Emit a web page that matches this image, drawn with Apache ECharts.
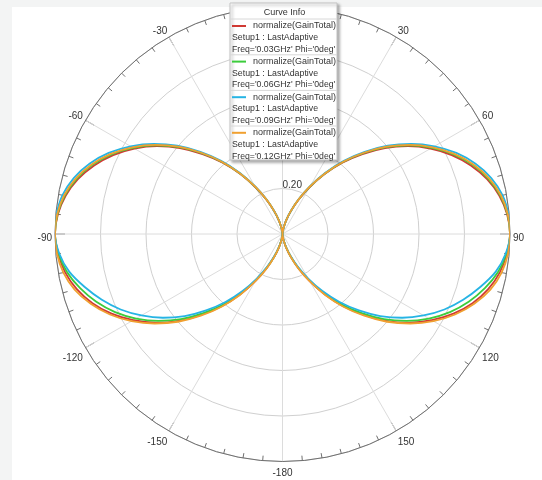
<!DOCTYPE html>
<html>
<head>
<meta charset="utf-8">
<script src="https://cdn.jsdelivr.net/npm/echarts@6/dist/echarts.min.js"></script>
<style>
html,body{margin:0;padding:0;background:#f3f4f4;}
#chart{width:542px;height:480px;}
</style>
</head>
<body>
<div id="chart"></div>
<script>
// Angles (deg, -180..180, 5 deg step)
const angles = [-180,-175,-170,-165,-160,-155,-150,-145,-140,-135,-130,-125,-120,-115,-110,-105,-100,-95,
  -90,-85,-80,-75,-70,-65,-60,-55,-50,-45,-40,-35,-30,-25,-20,-15,-10,-5,
  0,5,10,15,20,25,30,35,40,45,50,55,60,65,70,75,80,85,
  90,95,100,105,110,115,120,125,130,135,140,145,150,155,160,165,170,175,180];
const freqs = ['0.03GHz','0.06GHz','0.09GHz','0.12GHz'];
const gain003 = [0,0.007,0.028,0.062,0.107,0.167,0.239,0.323,0.413,0.502,0.594,0.68,0.758,0.829,0.889,0.936,0.970,0.99,
  1.0,0.991,0.968,0.931,0.881,0.821,0.751,0.673,0.588,0.497,0.409,0.32,0.236,0.165,0.106,0.061,0.028,0.007,
  0,0.007,0.028,0.061,0.106,0.165,0.236,0.32,0.409,0.497,0.588,0.673,0.751,0.821,0.881,0.931,0.968,0.991,
  1.0,0.99,0.970,0.936,0.889,0.829,0.758,0.68,0.594,0.502,0.413,0.323,0.239,0.167,0.107,0.062,0.028,0.007,0];
const gain006 = [0,0.007,0.027,0.06,0.105,0.164,0.234,0.317,0.405,0.492,0.582,0.666,0.743,0.812,0.871,0.921,0.962,0.988,
  1.0,0.993,0.972,0.937,0.889,0.829,0.758,0.68,0.594,0.502,0.413,0.323,0.239,0.167,0.107,0.062,0.028,0.007,
  0,0.007,0.028,0.062,0.107,0.167,0.239,0.323,0.413,0.502,0.594,0.68,0.758,0.829,0.889,0.937,0.972,0.993,
  1.0,0.988,0.962,0.921,0.871,0.812,0.743,0.666,0.582,0.492,0.405,0.317,0.234,0.164,0.105,0.06,0.027,0.007,0];
const gain009 = [0,0.007,0.026,0.058,0.102,0.158,0.226,0.306,0.39,0.475,0.561,0.642,0.716,0.785,0.845,0.9,0.952,0.985,
  1.0,0.997,0.982,0.95,0.903,0.843,0.771,0.691,0.604,0.511,0.42,0.329,0.243,0.17,0.109,0.063,0.028,0.007,
  0,0.007,0.028,0.063,0.109,0.17,0.243,0.329,0.42,0.511,0.604,0.691,0.771,0.843,0.903,0.95,0.982,0.997,
  1.0,0.985,0.952,0.9,0.845,0.785,0.716,0.642,0.561,0.475,0.39,0.306,0.226,0.158,0.102,0.058,0.026,0.007,0];
const gain012 = [0,0.007,0.028,0.062,0.109,0.169,0.241,0.327,0.417,0.508,0.6,0.686,0.766,0.837,0.897,0.946,0.978,0.995,
  1.0,0.994,0.975,0.941,0.893,0.833,0.762,0.683,0.597,0.505,0.415,0.325,0.24,0.168,0.108,0.062,0.028,0.007,
  0,0.007,0.028,0.062,0.108,0.168,0.24,0.325,0.415,0.505,0.597,0.683,0.762,0.833,0.893,0.941,0.975,0.994,
  1.0,0.995,0.978,0.946,0.897,0.837,0.766,0.686,0.6,0.508,0.417,0.327,0.241,0.169,0.109,0.062,0.028,0.007,0];
const gains = [gain003, gain006, gain009, gain012];
const colors = ['#d03a34','#3ccc3c','#26b4e4','#f0a030'];
const seriesLabel = 'normalize(GainTotal)';
const setupLabel = 'Setup1 : LastAdaptive';
const radiusTicks = [0, 0.2, 0.4, 0.6, 0.8, 1.0];

const FONT = 'Liberation Sans, Arial, sans-serif';
const chart = echarts.init(document.getElementById('chart'), null, {renderer:'canvas'});

const series = freqs.map((f, i) => ({
  name: f,
  type: 'line',
  coordinateSystem: 'polar',
  showSymbol: false,
  smooth: 0.3,
  lineStyle: {width: 1.8, color: colors[i]},
  itemStyle: {color: colors[i]},
  data: angles.map((a, k) => [gains[i][k], a < 0 ? a + 360 : a])
}));

const boxX = 230, boxY = 3, boxW = 107, boxH = 157;
const item0 = 25, itemStep = 35.6;
const graphics = [
  {type:'rect', shape:{x:12, y:7, width:530, height:473}, style:{fill:'#ffffff'}, z:-10, silent:true},
  {type:'rect', shape:{x:boxX, y:boxY, width:boxW, height:boxH},
   style:{fill:'#ffffff', stroke:'#c4c4c4', lineWidth:1, shadowBlur:3, shadowOffsetX:2, shadowOffsetY:2, shadowColor:'rgba(0,0,0,0.35)'}, z:100},
  {type:'text', x: boxX + boxW/2 + 1, y: 13, z:105,
   style:{text:'Curve Info', fill:'#333', font:'9px ' + FONT, textAlign:'center', textVerticalAlign:'middle'}},
  {type:'line', shape:{x1:boxX, y1:19, x2:boxX+boxW, y2:19}, style:{stroke:'#d8d8d8', lineWidth:1}, z:105}
];
freqs.forEach((f, i) => {
  const yc = item0 + itemStep * i;
  graphics.push({type:'text', x: 232, y: yc + 12.5, z:105,
    style:{text: setupLabel, fill:'#333', font:'8.8px ' + FONT, textAlign:'left', textVerticalAlign:'middle'}});
  graphics.push({type:'text', x: 232, y: yc + 24.5, z:105,
    style:{text: "Freq='" + f + "' Phi='0deg'", fill:'#333', font:'8.7px ' + FONT, textAlign:'left', textVerticalAlign:'middle'}});
  if (i < freqs.length - 1) {
    graphics.push({type:'line', shape:{x1:boxX, y1: yc + 29.8, x2:boxX+boxW, y2: yc + 29.8}, style:{stroke:'#d8d8d8', lineWidth:1}, z:105});
  }
});

chart.setOption({
  animation: false,
  backgroundColor: '#f3f4f4',
  textStyle: {fontFamily: FONT},
  graphic: {elements: graphics},
  polar: {center: [282.5, 234], radius: 227.5},
  angleAxis: {
    type: 'value', min: 0, max: 360, interval: 30, startAngle: 90, clockwise: true,
    axisLine: {show: true, lineStyle: {color: '#707070', width: 1}},
    axisTick: {show: true, inside: true, length: 10, lineStyle: {color: '#707070'}},
    minorTick: {show: true, splitNumber: 6, length: 5, lineStyle: {color: '#707070'}},
    splitLine: {show: true, lineStyle: {color: '#dcdcdc', width: 1}},
    axisLabel: {
      show: true, margin: 3, color: '#333', fontSize: 10, fontFamily: FONT,
      lineHeight: 6, padding: [6, 0, 0, 0],
      formatter: v => {
        if (v === 0 || v === 360) return '';
        const t = v >= 180 ? String(v - 360) : String(v);
        return (v === 90 || v === 270) ? '{s|' + t + '}' : t;
      },
      rich: {s: {fontSize: 10, color: '#333', fontFamily: FONT, lineHeight: 6, padding: [3, 0, 0, 0]}}
    }
  },
  radiusAxis: {
    type: 'value', min: radiusTicks[0], max: radiusTicks[radiusTicks.length-1], interval: 0.2,
    axisLine: {show: false}, axisTick: {show: false},
    splitLine: {show: true, lineStyle: {color: '#d0d0d0', width: 1}},
    axisLabel: {
      show: true, margin: 0, color: '#333', fontSize: 10, fontFamily: FONT,
      align: 'left', verticalAlign: 'bottom', lineHeight: 6,
      formatter: v => (v === 0 || v >= 1) ? '' : v.toFixed(2)
    }
  },
  legend: {
    show: true, orient: 'vertical', left: 232, top: 20, z: 120,
    padding: 0, itemGap: 23.6, itemWidth: 14, itemHeight: 2, icon: 'rect',
    selectedMode: false,
    data: freqs,
    formatter: () => seriesLabel,
    textStyle: {fontSize: 9, color: '#333', fontFamily: FONT, lineHeight: 12, padding: [0,0,0,2]}
  },
  series: series
});
</script>
</body>
</html>
